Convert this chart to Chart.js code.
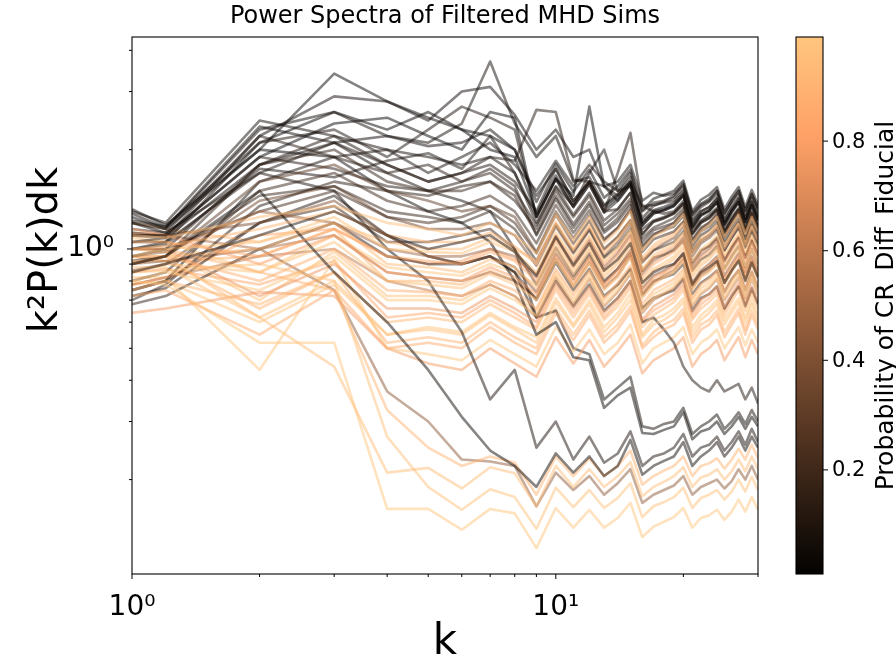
<!DOCTYPE html>
<html>
<head>
<meta charset="utf-8">
<script src="https://cdn.jsdelivr.net/npm/chart.js@4.4.1/dist/chart.umd.min.js"></script>
<style>
  html, body { margin: 0; padding: 0; background: #fff; }
</style>
</head>
<body>
<canvas id="spectra" width="896" height="662"></canvas>
<script>
// wavenumbers shared by every sim
const kValues = [1, 1.2, 2, 3, 4, 5, 6, 7, 8, 9, 10, 11, 12, 13, 14, 15, 16, 17, 18, 19, 20, 21, 22, 23, 24, 25, 26, 27, 28, 29, 30];

// k^2 P(k) dk, one array per filtered sim
const sim01 = [0.85, 0.9, 1.1, 1.3, 1.1, 1.0, 1.05, 1.1, 0.98, .83, 1.09, .89, 1.04, .86, .93, 1.04, .79, .85, .88, .90, .97, .78, .85, .88, .92, .79, .86, .92, .80, .91, .82];
const sim02 = [1.1, 1.08, 1.25, 1.35, 1.2, 1.15, 1.1, 1.2, 1.1, .97, 1.27, 1.06, 1.25, 1.04, 1.14, 1.30, .99, 1.09, 1.13, 1.18, 1.27, 1.04, 1.13, 1.18, 1.25, 1.09, 1.18, 1.27, 1.11, 1.25, 1.13];
const sim03 = [1.32, 1.18, 2.0, 3.4, 2.8, 2.5, 2.3, 2.2, 2.0, 1.39, 1.81, 1.49, 1.74, 1.43, 1.55, 1.74, 1.31, 1.42, 1.46, 1.50, 1.61, 1.30, 1.41, 1.46, 1.54, 1.32, 1.44, 1.54, 1.34, 1.51, 1.36];
const sim04 = [1.0, 1.02, 1.15, 1.3, 1.1, 1.05, 1.05, 1.12, 1.02, .90, 1.19, .99, 1.17, .97, 1.07, 1.21, .92, 1.01, 1.06, 1.10, 1.19, .97, 1.06, 1.10, 1.17, 1.01, 1.10, 1.19, 1.03, 1.17, 1.06];
const sim05 = [0.9, 0.95, 1.6, 1.8, 1.5, 1.4, 1.3, 1.35, 1.25, .98, 1.30, 1.08, 1.27, 1.06, 1.16, 1.32, 1.01, 1.10, 1.15, 1.20, 1.30, 1.06, 1.15, 1.20, 1.27, 1.10, 1.20, 1.30, 1.13, 1.27, 1.15];
const sim06 = [1.25, 1.15, 2.3, 2.6, 2.2, 2.1, 2.4, 3.7, 2.4, 1.90, 2.20, 1.60, 1.65, 1.36, 1.47, 1.65, 1.24, 1.35, 1.39, 1.43, 1.53, 1.24, 1.34, 1.39, 1.46, 1.25, 1.37, 1.46, 1.27, 1.43, 1.29];
const sim07 = [0.95, 1.0, 1.05, 1.25, 1.0, 0.98, 0.97, 1.05, 0.98, .85, 1.12, .94, 1.10, .92, 1.01, 1.14, .87, .96, 1.00, 1.04, 1.12, .92, 1.00, 1.04, 1.10, .96, 1.04, 1.12, .98, 1.10, 1.00];
const sim08 = [1.1, 1.1, 1.9, 2.4, 2.5, 2.2, 2.0, 2.6, 2.5, 1.25, 1.63, 1.45, 2.70, 1.55, 1.40, 1.57, 1.18, 1.28, 1.31, 1.35, 1.45, 1.17, 1.27, 1.31, 1.39, 1.19, 1.30, 1.39, 1.21, 1.36, 1.22];
const sim09 = [1.05, 1.05, 0.95, 1.15, 0.95, 0.92, 0.9, 0.98, 0.92, .80, 1.06, .88, 1.04, .86, .95, 1.08, .82, .90, .94, .98, 1.06, .86, .94, .98, 1.04, .90, .98, 1.06, .92, 1.04, .94];
const sim10 = [0.9, 0.95, 1.5, 0.85, 0.6, 0.43, 0.31, 0.245, 0.22, .190, .240, .210, .235, .205, .220, .264, .207, .220, .228, .235, .260, .220, .235, .245, .260, .235, .250, .270, .245, .270, .250];
const sim11 = [1.0, 1.05, 2.1, 2.3, 1.9, 2.3, 2.7, 2.5, 2.3, 1.25, 1.63, 1.34, 1.57, 1.29, 1.70, 2.25, 1.35, 1.36, 1.38, 1.40, 1.50, 1.21, 1.30, 1.34, 1.42, 1.22, 1.33, 1.42, 1.24, 1.39, 1.25];
const sim12 = [0.9, 0.95, 1.0, 1.2, 0.9, 0.88, 0.85, 0.93, 0.88, .76, 1.00, .84, .99, .82, .90, 1.02, .78, .86, .89, .93, 1.00, .82, .89, .93, .99, .86, .93, 1.00, .87, .99, .89];
const sim13 = [0.8, 0.78, 0.52, 0.52, 0.163, 0.163, 0.141, 0.163, 0.158, .124, .164, .143, .162, .143, .153, .170, .134, .144, .149, .154, .164, .143, .153, .156, .162, .151, .160, .174, .160, .177, .162];
const sim14 = [0.95, 1.0, 1.8, 2.2, 1.8, 1.6, 1.7, 1.9, 1.85, 2.64, 2.60, 1.62, 1.60, 1.30, 1.32, 1.48, 1.11, 1.21, 1.24, 1.28, 1.37, 1.11, 1.20, 1.24, 1.31, 1.12, 1.22, 1.31, 1.14, 1.28, 1.16];
const sim15 = [1.15, 1.1, 0.9, 1.1, 0.85, 0.82, 0.8, 0.88, 0.82, .73, .96, .80, .94, .78, .86, .98, .75, .82, .85, .89, .96, .78, .85, .89, .94, .82, .89, .96, .84, .94, .85];
const sim16 = [0.95, 0.98, 1.3, 1.2, 1.0, 0.95, 0.95, 1.0, 0.95, .82, 1.08, .90, 1.06, .88, .97, 1.10, .84, .92, .96, 1.00, 1.08, .88, .96, 1.00, 1.06, .92, 1.00, 1.08, .94, 1.06, .96];
const sim17 = [1.2, 1.12, 2.2, 2.9, 2.8, 2.45, 3.0, 3.1, 2.55, 2.00, 2.30, 1.90, 2.00, 1.55, 1.60, 1.80, 1.40, 1.48, 1.45, 1.47, 1.56, 1.28, 1.37, 1.42, 1.50, 1.29, 1.40, 1.50, 1.31, 1.47, 1.33];
const sim18 = [0.85, 0.9, 0.85, 1.05, 0.8, 0.78, 0.76, 0.84, 0.78, .70, .92, .77, .90, .75, .82, .94, .71, .78, .82, .85, .92, .75, .82, .85, .90, .78, .85, .92, .80, .90, .82];
const sim19 = [1.05, 1.05, 1.7, 1.5, 1.0, 0.8, 0.56, 0.35, 0.43, .250, .300, .230, .270, .225, .240, .280, .220, .235, .240, .250, .275, .235, .250, .255, .270, .245, .260, .280, .255, .285, .260];
const sim20 = [1.3, 1.2, 2.45, 2.2, 2.0, 1.9, 1.8, 1.9, 1.7, 1.25, 1.63, 1.34, 1.57, 1.29, 1.40, 1.57, 1.18, 1.28, 1.31, 1.35, 1.45, 1.17, 1.27, 1.31, 1.39, 1.19, 1.30, 1.39, 1.21, 1.36, 1.22];
const sim21 = [0.95, 0.95, 0.8, 1.0, 0.75, 0.74, 0.72, 0.8, 0.75, .66, .87, .73, .86, .71, .79, .89, .68, .75, .78, .81, .87, .71, .78, .81, .86, .75, .81, .87, .76, .86, .78];
const sim22 = [0.85, 0.86, 0.9, 0.8, 0.27, 0.19, 0.162, 0.187, 0.177, .142, .189, .165, .186, .164, .176, .195, .154, .166, .171, .177, .189, .164, .176, .180, .186, .174, .184, .200, .184, .204, .186];
const sim23 = [1.05, 1.08, 2.2, 1.9, 1.7, 1.8, 1.6, 1.7, 1.5, 1.18, 1.54, 1.27, 1.48, 1.22, 1.32, 1.48, 1.11, 1.21, 1.24, 1.28, 1.37, 1.11, 1.20, 1.24, 1.31, 1.12, 1.22, 1.31, 1.14, 1.28, 1.16];
const sim24 = [0.8, 0.85, 0.75, 0.95, 0.7, 0.7, 0.68, 0.76, 0.7, .63, .83, .69, .82, .68, .75, .85, .65, .71, .74, .77, .83, .68, .74, .77, .82, .71, .77, .83, .72, .82, .74];
const sim25 = [1.1, 1.1, 1.2, 1.4, 1.1, 0.95, 0.9, 0.95, 0.88, .74, .97, .81, .95, .79, .87, .99, .76, .83, .86, .90, .97, .79, .86, .90, .95, .83, .90, .97, .85, .95, .86];
const sim26 = [0.9, 0.95, 1.8, 2.0, 1.6, 1.5, 1.5, 1.6, 1.45, 1.11, 1.45, 1.19, 1.39, 1.14, 1.24, 1.39, 1.05, 1.14, 1.17, 1.20, 1.29, 1.04, 1.13, 1.17, 1.23, 1.06, 1.15, 1.23, 1.07, 1.21, 1.09];
const sim27 = [1.0, 1.0, 0.72, 0.9, 0.66, 0.66, 0.64, 0.72, 0.66, .60, .79, .66, .77, .64, .71, .80, .61, .67, .70, .73, .79, .64, .70, .73, .77, .67, .73, .79, .69, .77, .70];
const sim28 = [1.2, 1.15, 2.0, 1.9, 1.5, 1.3, 1.2, 1.05, 0.8, .55, .60, .47, .46, .33, .36, .38, .277, .275, .283, .290, .320, .265, .280, .285, .300, .275, .290, .310, .285, .310, .290];
const sim29 = [1.15, 1.12, 1.7, 2.1, 1.8, 1.6, 1.7, 1.8, 1.6, 1.30, 1.75, 1.40, 1.60, 1.55, 1.45, 1.60, 1.35, 1.30, 1.28, 1.30, 1.40, 1.15, 1.22, 1.27, 1.33, 1.15, 1.25, 1.33, 1.16, 1.30, 1.18];
const sim30 = [0.75, 0.8, 0.68, 0.85, 0.6, 0.62, 0.6, 0.68, 0.62, .57, .75, .62, .73, .61, .67, .76, .58, .63, .66, .69, .75, .61, .66, .69, .73, .63, .69, .75, .65, .73, .66];
const sim31 = [0.95, 0.95, 0.62, 0.44, 0.21, 0.217, 0.188, 0.218, 0.209, .166, .220, .190, .215, .190, .205, .226, .178, .190, .197, .205, .218, .190, .203, .207, .215, .200, .212, .230, .212, .235, .215];
const sim32 = [0.8, 0.85, 1.5, 1.7, 1.4, 1.3, 1.35, 1.45, 1.3, 1.04, 1.36, 1.12, 1.31, 1.07, 1.16, 1.31, .98, 1.07, 1.10, 1.13, 1.21, .98, 1.06, 1.10, 1.16, .99, 1.08, 1.16, 1.01, 1.13, 1.02];
const sim33 = [0.88, 0.88, 0.62, 0.8, 0.55, 0.57, 0.55, 0.63, 0.57, .52, .69, .58, .68, .56, .62, .70, .54, .59, .61, .64, .69, .56, .61, .64, .68, .59, .64, .69, .60, .68, .61];
const sim34 = [0.78, 0.82, 0.95, 1.0, 0.8, 0.75, 0.72, 0.78, 0.72, .62, .82, .68, .81, .67, .74, .84, .64, .70, .73, .76, .82, .67, .73, .76, .81, .70, .76, .82, .71, .81, .73];
const sim35 = [0.75, 0.8, 1.6, 1.9, 2.0, 1.7, 1.9, 2.1, 1.8, 1.50, 1.85, 1.55, 1.80, 1.60, 1.50, 1.70, 1.30, 1.38, 1.40, 1.45, 1.58, 1.27, 1.36, 1.40, 1.50, 1.28, 1.40, 1.50, 1.30, 1.46, 1.32];
const sim36 = [0.72, 0.75, 0.55, 0.75, 0.5, 0.52, 0.5, 0.58, 0.52, .48, .64, .53, .63, .52, .57, .65, .50, .54, .57, .59, .64, .52, .57, .59, .63, .54, .59, .64, .55, .63, .57];
const sim37 = [0.72, 0.76, 1.2, 1.45, 1.1, 0.95, 0.9, 0.95, 0.85, .62, .80, .67, .78, .65, .71, .80, .60, .62, .57, .52, .44, .40, .38, .37, .40, .37, .38, .39, .35, .38, .34];
const sim38 = [1.0, 1.0, 1.3, 1.5, 1.25, 1.2, 1.25, 1.35, 1.2, .97, 1.27, 1.04, 1.22, 1.00, 1.09, 1.22, .92, .99, 1.02, 1.05, 1.13, .91, .99, 1.02, 1.08, .92, 1.01, 1.08, .94, 1.06, .95];
const sim39 = [0.82, 0.82, 0.43, 0.93, 0.5, 0.48, 0.46, 0.53, 0.48, .44, .58, .49, .57, .48, .52, .59, .45, .50, .52, .54, .58, .48, .52, .54, .57, .50, .54, .58, .51, .57, .52];
const sim40 = [1.0, 1.0, 0.85, 0.75, 0.325, 0.25, 0.22, 0.235, 0.225, .180, .235, .205, .232, .205, .220, .245, .193, .205, .213, .220, .235, .205, .220, .224, .232, .216, .230, .248, .230, .255, .232];
const sim41 = [0.7, 0.78, 1.35, 1.6, 1.5, 1.45, 1.55, 1.6, 1.4, 1.15, 1.50, 1.25, 1.45, 1.18, 1.28, 1.42, 1.08, 1.16, 1.20, 1.24, 1.33, 1.07, 1.16, 1.20, 1.27, 1.09, 1.18, 1.27, 1.10, 1.25, 1.12];
const sim42 = [0.64, 0.66, 0.74, 0.72, 0.5, 0.45, 0.43, 0.5, 0.45, .41, .54, .45, .53, .44, .49, .55, .42, .46, .48, .50, .54, .44, .48, .50, .53, .46, .50, .54, .47, .53, .48];
const sim43 = [1.1, 1.08, 1.8, 2.1, 1.7, 1.5, 1.4, 1.3, 1.0, .62, .65, .50, .48, .35, .38, .41, .29, .285, .295, .30, .33, .275, .29, .30, .315, .285, .30, .32, .295, .325, .30];
const sim44 = [0.68, 0.72, 1.0, 1.2, 0.95, 0.9, 0.9, 0.95, 0.85, .70, .91, .75, .87, .72, .78, .87, .66, .71, .73, .75, .81, .65, .71, .73, .77, .66, .72, .77, .67, .76, .68];
const sim45 = [0.9, 0.92, 1.0, 0.75, 0.37, 0.30, 0.23, 0.227, 0.22, .166, .210, .186, .205, .180, .195, .215, .170, .180, .186, .192, .205, .180, .190, .195, .200, .188, .198, .215, .200, .220, .200];
const sim46 = [1.2, 1.15, 1.05, 1.2, 1.05, 1.0, 1.0, 1.08, 1.0, .92, 1.21, 1.01, 1.19, .99, 1.09, 1.23, .94, 1.03, 1.08, 1.12, 1.21, .99, 1.08, 1.12, 1.19, 1.03, 1.12, 1.21, 1.05, 1.19, 1.08];
const sim47 = [1.28, 1.16, 2.35, 2.1, 2.2, 2.05, 2.1, 2.3, 2.0, 1.45, 1.75, 1.40, 1.60, 1.35, 1.45, 1.60, 1.20, 1.30, 1.32, 1.36, 1.46, 1.16, 1.26, 1.30, 1.38, 1.18, 1.29, 1.38, 1.20, 1.35, 1.22];
const sim48 = [0.78, 0.82, 1.1, 1.15, 0.95, 0.9, 0.92, 1.0, 0.93, .84, 1.10, .92, 1.08, .90, .99, 1.12, .86, .94, .98, 1.02, 1.10, .90, .98, 1.02, 1.08, .94, 1.02, 1.10, .96, 1.08, .98];
const sim49 = [1.12, 1.1, 1.0, 1.1, 0.85, 0.82, 0.8, 0.85, 0.8, .71, .93, .77, .91, .76, .83, .95, .72, .79, .83, .86, .93, .76, .83, .86, .91, .79, .86, .93, .81, .91, .83];
const sim50 = [1.12, 1.1, 1.9, 1.75, 1.55, 1.5, 1.6, 1.75, 1.55, 1.10, 1.42, 1.16, 1.36, 1.12, 1.21, 1.36, 1.02, 1.11, 1.14, 1.17, 1.26, 1.01, 1.10, 1.14, 1.20, 1.03, 1.12, 1.20, 1.05, 1.18, 1.06];
const sim51 = [1.08, 1.05, 0.85, 1.1, 0.88, 0.85, 0.83, 0.9, 0.85, .78, 1.03, .86, 1.01, .84, .92, 1.05, .80, .87, .91, .95, 1.03, .84, .91, .95, 1.01, .87, .95, 1.03, .89, 1.01, .91];
const sim52 = [0.92, 0.92, 0.95, 1.15, 0.8, 0.8, 0.78, 0.86, 0.8, .71, .94, .78, .92, .77, .84, .96, .73, .80, .84, .87, .94, .77, .84, .87, .92, .80, .87, .94, .82, .92, .84];
const sim53 = [1.22, 1.17, 2.1, 2.6, 2.3, 2.6, 2.3, 2.0, 1.9, 1.28, 1.67, 1.37, 1.60, 1.32, 1.43, 1.60, 1.21, 1.31, 1.34, 1.38, 1.48, 1.20, 1.30, 1.34, 1.42, 1.21, 1.32, 1.42, 1.23, 1.39, 1.25];
const sim54 = [1.0, 0.98, 0.7, 0.98, 0.72, 0.72, 0.7, 0.78, 0.72, .65, .85, .71, .84, .70, .77, .87, .66, .73, .76, .79, .85, .70, .76, .79, .84, .73, .79, .85, .74, .84, .76];
const sim55 = [0.92, 0.95, 1.45, 1.55, 1.3, 1.25, 1.2, 1.3, 1.15, .92, 1.19, .98, 1.15, .94, 1.02, 1.15, .86, .94, .96, .99, 1.06, .86, .93, .96, 1.02, .87, .95, 1.02, .88, 1.00, .90];
const sim56 = [0.85, 0.87, 0.78, 0.92, 0.62, 0.64, 0.62, 0.7, 0.64, .58, .77, .64, .75, .62, .69, .78, .60, .65, .68, .71, .77, .62, .68, .71, .75, .65, .71, .77, .67, .75, .68];
const sim57 = [0.86, 0.9, 1.4, 1.55, 1.25, 1.15, 1.15, 1.2, 1.1, .89, 1.17, .97, 1.14, .95, 1.05, 1.19, .91, .99, 1.04, 1.08, 1.17, .95, 1.04, 1.08, 1.14, .99, 1.08, 1.17, 1.02, 1.14, 1.04];
const sim58 = [1.0, 1.03, 1.75, 1.65, 1.85, 1.95, 1.75, 2.2, 1.7, 1.20, 1.55, 1.35, 1.70, 2.00, 1.50, 1.55, 1.15, 1.22, 1.25, 1.29, 1.38, 1.12, 1.21, 1.25, 1.32, 1.13, 1.23, 1.32, 1.15, 1.29, 1.17];
const sim59 = [0.78, 0.8, 0.6, 0.78, 0.55, 0.58, 0.56, 0.64, 0.58, .54, .71, .59, .70, .58, .64, .73, .55, .61, .63, .66, .71, .58, .63, .66, .70, .61, .66, .71, .62, .70, .63];
const sim60 = [0.75, 0.8, 1.2, 1.35, 1.05, 1.05, 1.1, 1.15, 1.0, .78, 1.01, .83, .97, .80, .87, .97, .73, .80, .82, .84, .90, .73, .79, .82, .86, .74, .81, .86, .75, .85, .76];
const sim61 = [0.95, 0.92, 0.66, 0.85, 0.52, 0.54, 0.52, 0.6, 0.54, .50, .66, .55, .65, .54, .59, .67, .51, .56, .59, .61, .66, .54, .59, .61, .65, .56, .61, .66, .57, .65, .59];

const simSpectra = [sim01, sim02, sim03, sim04, sim05, sim06, sim07, sim08, sim09, sim10,
  sim11, sim12, sim13, sim14, sim15, sim16, sim17, sim18, sim19, sim20,
  sim21, sim22, sim23, sim24, sim25, sim26, sim27, sim28, sim29, sim30,
  sim31, sim32, sim33, sim34, sim35, sim36, sim37, sim38, sim39, sim40,
  sim41, sim42, sim43, sim44, sim45, sim46, sim47, sim48, sim49, sim50,
  sim51, sim52, sim53, sim54, sim55, sim56, sim57, sim58, sim59, sim60, sim61];

// probability of CR_Diff_Fiducial for each sim (line colour)
const simProb = [0.10, 0.95, 0.03, 0.90, 0.30, 0.05, 0.98, 0.02, 0.85, 0.05,
  0.08, 0.93, 0.99, 0.10, 0.80, 0.50, 0.04, 0.97, 0.08, 0.06,
  0.88, 0.97, 0.12, 0.99, 0.40, 0.15, 0.75, 0.03, 0.09, 0.92,
  0.95, 0.18, 0.96, 0.60, 0.07, 0.86, 0.10, 0.20, 0.99, 0.90,
  0.13, 0.78, 0.06, 0.15, 0.45, 0.94, 0.04, 0.82, 0.55, 0.11,
  0.99, 0.91, 0.02, 0.97, 0.16, 0.84, 0.35, 0.07, 0.98, 0.19, 0.90];

// axis ticks
const xMajorTicks = [1, 10];
const xMinorTicks = [2, 3, 4, 5, 6, 7, 8, 9, 20, 30];
const yMajorTicks = [1];
const yMinorTicks = [0.2, 0.3, 0.4, 0.5, 0.6, 0.7, 0.8, 0.9, 2, 3, 4];
const cbarTicks = [0.2, 0.4, 0.6, 0.8];
const cbarMin = 0.01, cbarMax = 0.99;

const FONT = "'DejaVu Sans', sans-serif";

// matplotlib 'copper'
function copper(v, a) {
  const r = Math.min(1, v / 0.809524) * 255;
  const g = 0.7812 * v * 255;
  const b = 0.4975 * v * 255;
  return `rgba(${r.toFixed(0)},${g.toFixed(0)},${b.toFixed(0)},${a})`;
}

const decor = {
  id: 'decor',
  afterDraw(chart) {
    const { ctx, chartArea: a, scales: { x, y } } = chart;
    ctx.save();
    ctx.fillStyle = '#000';
    ctx.strokeStyle = '#000';

    // spines
    ctx.lineWidth = 1.1;
    ctx.strokeRect(a.left, a.top, a.right - a.left, a.bottom - a.top);

    // tick marks
    ctx.lineWidth = 1;
    ctx.beginPath();
    xMajorTicks.forEach(v => { const p = x.getPixelForValue(v); ctx.moveTo(p, a.bottom); ctx.lineTo(p, a.bottom + 5); });
    xMinorTicks.forEach(v => { const p = x.getPixelForValue(v); ctx.moveTo(p, a.bottom); ctx.lineTo(p, a.bottom + 3); });
    yMajorTicks.forEach(v => { const p = y.getPixelForValue(v); ctx.moveTo(a.left, p); ctx.lineTo(a.left - 5, p); });
    yMinorTicks.forEach(v => { const p = y.getPixelForValue(v); ctx.moveTo(a.left, p); ctx.lineTo(a.left - 3, p); });
    ctx.stroke();

    // title and axis titles
    ctx.textAlign = 'center';
    ctx.textBaseline = 'alphabetic';
    ctx.font = `24px ${FONT}`;
    ctx.fillText('Power Spectra of Filtered MHD Sims', (a.left + a.right) / 2, 23);
    ctx.font = `42px ${FONT}`;
    ctx.fillText('k', (a.left + a.right) / 2, 654);
    ctx.save();
    ctx.translate(57, 250);
    ctx.rotate(-Math.PI / 2);
    ctx.font = `40px ${FONT}`;
    ctx.fillText('k²P(k)dk', 0, 0);
    ctx.restore();

    // colorbar
    const cx0 = 796, cx1 = 823;
    const h = a.bottom - a.top;
    const grad = ctx.createLinearGradient(0, a.bottom, 0, a.top);
    grad.addColorStop(0, copper(cbarMin, 1));
    grad.addColorStop((0.809524 - cbarMin) / (cbarMax - cbarMin), copper(0.809524, 1));
    grad.addColorStop(1, copper(cbarMax, 1));
    ctx.fillStyle = grad;
    ctx.fillRect(cx0, a.top, cx1 - cx0, h);
    ctx.lineWidth = 1.1;
    ctx.strokeRect(cx0, a.top, cx1 - cx0, h);
    ctx.fillStyle = '#000';
    ctx.lineWidth = 1;
    ctx.font = `21px ${FONT}`;
    ctx.textAlign = 'left';
    ctx.textBaseline = 'middle';
    cbarTicks.forEach(v => {
      const p = a.bottom - (v - cbarMin) / (cbarMax - cbarMin) * h;
      ctx.beginPath();
      ctx.moveTo(cx1, p); ctx.lineTo(cx1 + 5, p);
      ctx.stroke();
      ctx.fillText(v.toFixed(1), cx1 + 9, p + 1);
    });
    // label sits at the figure edge, so the underscores fall just off the canvas
    ctx.save();
    ctx.translate(893, (a.top + a.bottom) / 2);
    ctx.rotate(-Math.PI / 2);
    ctx.textAlign = 'center';
    ctx.textBaseline = 'alphabetic';
    ctx.font = `25px ${FONT}`;
    ctx.fillText('Probability of CR_Diff_Fiducial', 0, 0);
    ctx.restore();

    ctx.restore();
  }
};

const datasets = simSpectra.map((vals, i) => ({
  data: vals.map((v, j) => ({ x: kValues[j], y: v })),
  borderColor: copper(simProb[i], 0.5),
  borderWidth: 2.6,
  borderJoinStyle: 'round',
  pointRadius: 0,
  tension: 0,
  fill: false,
  clip: 0
}));

new Chart(document.getElementById('spectra'), {
  type: 'line',
  data: { datasets },
  options: {
    responsive: false,
    animation: false,
    parsing: false,
    layout: { padding: { top: 37, right: 138, left: 0, bottom: 0 } },
    plugins: { legend: { display: false }, tooltip: { enabled: false }, title: { display: false } },
    scales: {
      x: {
        type: 'logarithmic', min: 1, max: 30, position: 'bottom',
        grid: { display: false }, border: { display: false },
        afterBuildTicks: s => { s.ticks = xMajorTicks.map(v => ({ value: v, major: true })); },
        afterFit: s => { s.height = 88; },
        ticks: {
          autoSkip: false, maxRotation: 0, padding: 9, color: '#000',
          font: { family: FONT, size: 28 },
          callback: v => (v === 1 ? '10⁰' : v === 10 ? '10¹' : '')
        }
      },
      y: {
        type: 'logarithmic', min: 0.1035, max: 4.39, position: 'left',
        grid: { display: false }, border: { display: false },
        afterBuildTicks: s => { s.ticks = yMajorTicks.map(v => ({ value: v, major: true })); },
        afterFit: s => { s.width = 132; },
        ticks: {
          autoSkip: false, padding: 10, color: '#000',
          font: { family: FONT, size: 28 },
          callback: v => (v === 1 ? '10⁰' : '')
        }
      }
    }
  },
  plugins: [decor]
});
</script>
</body>
</html>
